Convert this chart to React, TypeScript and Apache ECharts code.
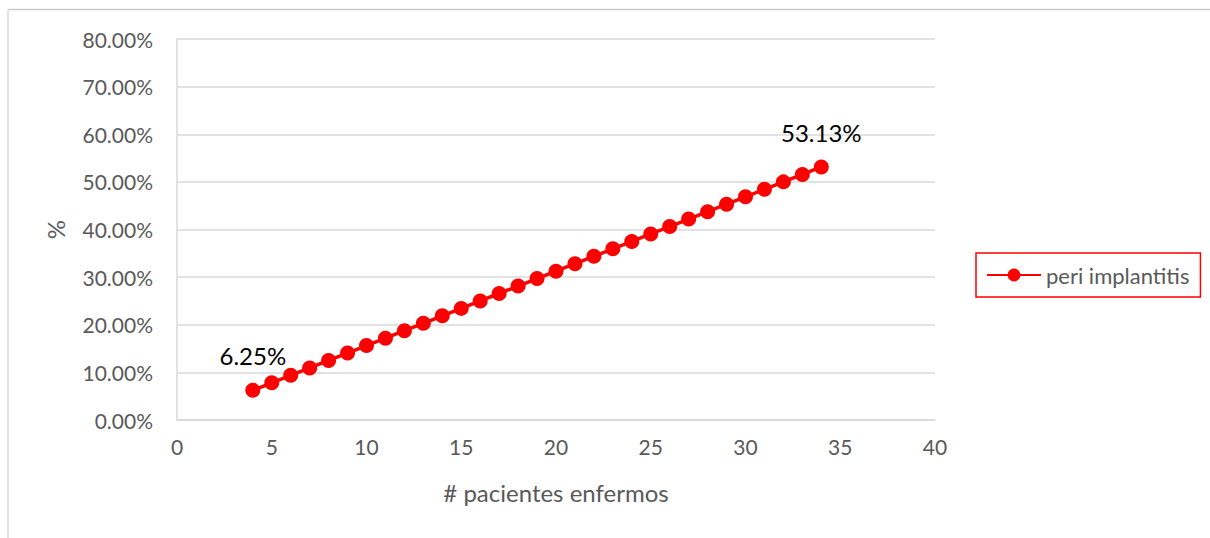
import React, { useEffect, useRef } from "react";
import * as echarts from "echarts";

const xValues = [4, 5, 6, 7, 8, 9, 10, 11, 12, 13, 14, 15, 16, 17, 18, 19, 20, 21, 22, 23, 24, 25, 26, 27, 28, 29, 30, 31, 32, 33, 34];
const yValues = [
  0.0625, 0.078125, 0.09375, 0.109375, 0.125, 0.140625, 0.15625, 0.171875, 0.1875, 0.203125,
  0.21875, 0.234375, 0.25, 0.265625, 0.28125, 0.296875, 0.3125, 0.328125, 0.34375, 0.359375,
  0.375, 0.390625, 0.40625, 0.421875, 0.4375, 0.453125, 0.46875, 0.484375, 0.5, 0.515625, 0.53125,
];
const labeledIndices = [0, 30];
const seriesName = "peri implantitis";
const xTitle = "# pacientes enfermos";
const yTitle = "%";

const FONT = "Lato, 'Open Sans', sans-serif";

export default function App() {
  const ref = useRef<HTMLDivElement>(null);
  useEffect(() => {
    if (!ref.current) return;
    const chart = echarts.init(ref.current, undefined, { renderer: "svg" });
    const data = xValues.map((x, i) => {
      const item: any = { value: [x, yValues[i]] };
      if (labeledIndices.includes(i)) {
        item.label = {
          show: true,
          position: "top",
          distance: 15,
          fontSize: 24,
          color: "#000",
          fontFamily: FONT,
          formatter: (p: any) => (p.value[1] * 100).toFixed(2) + "%",
        };
      }
      return item;
    });
    chart.setOption({
      animation: false,
      textStyle: { fontFamily: FONT },
      grid: { left: 177, top: 39, right: 275, bottom: 118, containLabel: false },
      xAxis: {
        type: "value",
        min: 0,
        max: 40,
        interval: 5,
        name: xTitle,
        nameLocation: "middle",
        nameGap: 60,
        nameTextStyle: { fontSize: 24, color: "#595959", fontFamily: FONT },
        axisLine: { show: true, lineStyle: { color: "#d9d9d9", width: 1.5 } },
        axisTick: { show: false },
        axisLabel: { fontSize: 21, color: "#595959", margin: 16, fontFamily: FONT },
        splitLine: { show: false },
      },
      yAxis: {
        type: "value",
        min: 0,
        max: 0.8,
        interval: 0.1,
        name: yTitle,
        nameLocation: "middle",
        nameGap: 110,
        nameRotate: 90,
        nameTextStyle: { fontSize: 24, color: "#595959", fontFamily: FONT },
        axisLine: { show: true, lineStyle: { color: "#d9d9d9", width: 1.5 } },
        axisTick: { show: false },
        axisLabel: {
          fontSize: 21,
          color: "#595959",
          margin: 24,
          fontFamily: FONT,
          formatter: (v: number) => (v * 100).toFixed(2) + "%",
        },
        splitLine: { show: true, lineStyle: { color: "#d9d9d9", width: 1.5 } },
      },
      legend: {
        left: 976,
        top: 253,
        orient: "vertical",
        data: [seriesName],
        itemWidth: 54,
        itemHeight: 16,
        itemGap: 0,
        padding: [11, 11, 11, 10],
        borderColor: "#ff0000",
        borderWidth: 1.5,
        borderRadius: 0,
        textStyle: { fontSize: 22, color: "#595959", fontFamily: FONT, padding: [0, 0, 0, 0] },
      },
      graphic: [
        { type: "line", shape: { x1: 8, y1: 9.5, x2: 1210, y2: 9.5 }, style: { stroke: "#c8c8c8", lineWidth: 1.5 } },
        { type: "line", shape: { x1: 8, y1: 9.5, x2: 8, y2: 538 }, style: { stroke: "#d9d9d9", lineWidth: 1.5 } },
      ],
      series: [
        {
          name: seriesName,
          type: "line",
          data,
          symbol: "circle",
          symbolSize: 15,
          itemStyle: { color: "#ff0000" },
          lineStyle: { color: "#ff0000", width: 3.5 },
          label: { show: false },
        },
      ],
    });
    return () => chart.dispose();
  }, []);
  return (
    <div
      ref={ref}
      style={{ position: "fixed", left: 0, top: 0, width: 1210, height: 538, background: "#fff" }}
    />
  );
}
